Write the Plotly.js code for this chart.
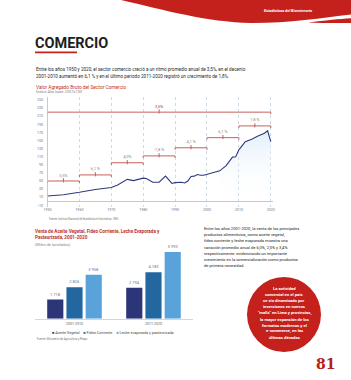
<!DOCTYPE html>
<html><head><meta charset="utf-8">
<script src="https://cdn.plot.ly/plotly-3.0.1.min.js"></script>
<style>html,body{margin:0;padding:0;background:#fff}#chart{width:351px;height:380px}</style>
</head><body><div id="chart"></div>
<script>
// ---- Line chart data: Valor Agregado Bruto del Sector Comercio (Índice 2007=100)
const vabYears = [1950,1955,1960,1965,1970,1972,1975,1977,1980,1981,1983,1985,1987,1989,1990,1992,1993,1994,1995,1996,1997,1998,1999,2000,2002,2004,2006,2007,2008,2009,2010,2012,2014,2016,2018,2019,2020];
const vabIndex = [13,16,22,29,34,40,54,51,57,56,47,47,62,44,46,47,45,50,61,62,66,64,64,66,70,75,88,98,109,110,127,147,153,161,168,174,147];
// Growth-rate brackets
const brStart = [1950,1950,1960,1970,1980,1990,2000,2010];
const brEnd   = [2020,1960,1970,1980,1990,2000,2010,2020];
const brLevel = [220,50,65,95,112,132,157,186];
const brLabel = ['3,5%','5,5%','6,1 %','4,0%','-1,8 %','4,1 %','6,1 %','1,8 %'];
const yTicks = [-10,10,30,50,70,90,110,130,150,170,190,210,230,250];
const xTicks = [1950,1960,1970,1980,1990,2000,2010,2020];

// ---- Bar chart data: Venta (Miles de toneladas)
const periods = ['2001-2010','2011-2020'];
const seriesNames = ['Aceite Vegetal','Fideo Corriente','Leche evaporada y pasteurizada'];
const aceite = [1718,2794];
const fideo  = [2826,4183];
const leche  = [3958,5993];
const barColors = ['#2c3577','#22679f','#5aa3da'];

const W = 351, H = 380;
const X = px => px / W;
const Y = py => 1 - py / H;
const P = (x, y) => X(x).toFixed(5) + ',' + Y(y).toFixed(5);
const fmt = v => Math.floor(v / 1000) + ' ' + String(v % 1000).padStart(3, '0');

const RED = '#c0302b';
const BR = '#c4605b';
const FONT = 'Roboto, "Open Sans", sans-serif';

const traces = [];
// light gradient fill under recent part
const fillYears = vabYears.filter(y => y >= 2004);
const fillVals = vabIndex.slice(vabYears.indexOf(2004));
traces.push({x: fillYears, y: fillVals, xaxis: 'x', yaxis: 'y', mode: 'lines', line: {width: 0},
  fill: 'tozeroy', fillgradient: {type: 'vertical', colorscale: [[0, 'rgba(255,255,255,0)'], [1, 'rgba(214,232,248,0.7)']]},
  hoverinfo: 'skip', showlegend: false});
traces.push({x: vabYears, y: vabIndex, xaxis: 'x', yaxis: 'y', mode: 'lines',
  line: {color: '#2f3a7e', width: 1.1}, showlegend: false});
// brackets
for (let i = 0; i < brStart.length; i++) {
  const a = brStart[i], b = brEnd[i], v = brLevel[i];
  traces.push({x: [a, a, b, b], y: [v - 5, v, v, v - 5], xaxis: 'x', yaxis: 'y', mode: 'lines',
    line: {color: BR, width: 1}, showlegend: false, hoverinfo: 'skip'});
  traces.push({x: [(a + b) / 2], y: [v + 1.5], xaxis: 'x', yaxis: 'y', mode: 'markers+text',
    marker: {symbol: 'line-ns-open', size: 3, color: BR, line: {width: 1, color: BR}},
    text: [brLabel[i]], textposition: 'top center',
    textfont: {size: 4, color: i === 0 ? RED : '#888', family: FONT},
    showlegend: false, hoverinfo: 'skip', cliponaxis: false});
}
// bars
[aceite, fideo, leche].forEach((vals, i) => {
  traces.push({type: 'bar', x: periods, y: vals, name: seriesNames[i], xaxis: 'x2', yaxis: 'y2',
    marker: {color: barColors[i]}, text: vals.map(fmt), textposition: 'outside',
    textfont: {size: 4, color: '#55779c', family: FONT}, cliponaxis: false, showlegend: false});
});

const ann = [];
function txt(x, y, text, size, color, opts) {
  ann.push(Object.assign({xref: 'paper', yref: 'paper', x: X(x), y: Y(y), text: text, showarrow: false,
    xanchor: 'left', yanchor: 'middle', font: {size: size, color: color, family: FONT}}, opts || {}));
}
txt(262, 11, '<i><b>Estadísticas del Bicentenario</b></i>', 3.8, '#ffffff');
txt(33, 43.5, '<b>COMERCIO</b>', 14.5, '#1e1e1e');
txt(34, 69, 'Entre los años 1950 y 2020, el sector comercio creció a un ritmo promedio anual de 3,5%, en el decenio', 4.6, '#2a2a2a');
txt(34, 76.5, '2001-2010 aumentó en 6,1 % y en el último periodo 2011-2020 registró un crecimiento de 1,8%.', 4.6, '#2a2a2a');
txt(34, 87.3, 'Valor Agregado Bruto del Sector Comercio', 4.8, RED);
txt(34, 91.8, 'Índice Año base 2007=100', 3.9, '#888');
txt(47, 219.3, 'Fuente: Instituto Nacional de Estadística e Informática - INEI.', 2.6, '#777');
txt(33, 231, '<b>Venta de Aceite Vegetal, Fideo Corriente, Leche Evaporada y</b>', 4.6, RED);
txt(33, 238, '<b>Pasteurizada, 2001-2020</b>', 4.6, RED);
txt(33, 244, '(Miles de toneladas)', 3.9, '#888');
const legendText = seriesNames.map((n, i) => '<span style="color:' + barColors[i] + '">■</span> ' + n).join('    ');
txt(113, 332.7, legendText, 3.8, '#444', {xanchor: 'center'});
txt(35, 339, 'Fuente: Ministerio de Agricultura y Riego.', 2.8, '#777');
const para = ['Entre los años 2001-2020, la venta de los principales',
  'productos alimenticios, como aceite vegetal,',
  'fideo corriente y leche evaporada muestra una',
  'variación promedio anual de 6,0%, 2,0% y 3,4%',
  'respectivamente; evidenciando un importante',
  'crecimiento en la comercialización como productos',
  'de primera necesidad.'];
const paraY = [228.3, 234.6, 240.8, 247, 253.5, 259.8, 265.8];
para.forEach((t, i) => txt(201.5, paraY[i], t, 4.1, '#222'));
const circ = ['La actividad', 'comercial en el país', 'se vio dinamizado por', 'inversiones en nuevos',
  '"malls" en Lima y provincias,', 'la mayor expansión de los', 'formatos modernos y el', 'e-commerce, en las', 'últimas décadas'];
circ.forEach((t, i) => txt(284, 288.5 + i * 6.1, '<b>' + t + '</b>', 4.2, '#ffffff', {xanchor: 'center'}));
ann.push({xref: 'paper', yref: 'paper', x: X(325), y: Y(363.5), text: '<b>81</b>', showarrow: false,
  xanchor: 'center', yanchor: 'middle', font: {size: 14, color: '#b3201c', family: '"DejaVu Serif", serif'}});

const shapes = [
  {type: 'path', xref: 'paper', yref: 'paper', line: {width: 0}, fillcolor: '#c4211c',
    path: 'M' + P(121, 0) + ' C' + P(165, 10) + ' ' + P(205, 22) + ' ' + P(252, 23) +
      ' C' + P(290, 23) + ' ' + P(322, 18) + ' ' + P(351, 14.5) + ' L' + P(351, 0) + ' Z'},
  {type: 'path', xref: 'paper', yref: 'paper', line: {width: 0}, fillcolor: '#c4211c',
    path: 'M' + P(308, 22.6) + ' C' + P(325, 20.5) + ' ' + P(340, 19) + ' ' + P(351, 18.3) +
      ' L' + P(351, 23) + ' C' + P(338, 23.2) + ' ' + P(322, 23.2) + ' ' + P(308, 22.6) + ' Z'},
  {type: 'rect', xref: 'paper', yref: 'paper', x0: X(35), x1: X(77), y0: Y(53.3), y1: Y(51.6),
    line: {width: 0}, fillcolor: '#c4211c'},
  {type: 'circle', xref: 'paper', yref: 'paper', x0: X(247), x1: X(321), y0: Y(352), y1: Y(277),
    line: {width: 0}, fillcolor: '#c4211c'}
];

const layout = {
  width: W, height: H, margin: {l: 0, r: 0, t: 0, b: 0}, paper_bgcolor: '#fff', plot_bgcolor: 'rgba(0,0,0,0)',
  showlegend: false, font: {family: FONT},
  xaxis: {domain: [X(47.5), X(272.7)], range: [1950, 2020.6], tickvals: xTicks, showgrid: true,
    gridcolor: '#bcd3ea', griddash: 'dot', gridwidth: 0.8, zeroline: false, showline: false,
    ticks: '', tickfont: {size: 3.6, color: '#777'}, fixedrange: true},
  yaxis: {domain: [Y(206.5), Y(97)], range: [-13, 257.4], tickvals: yTicks, showgrid: false,
    zeroline: true, zerolinecolor: '#bbb', zerolinewidth: 0.8, showline: true, linecolor: '#bbb', linewidth: 0.8,
    ticks: '', tickfont: {size: 3.6, color: '#777'}, ticklabelstandoff: 3},
  xaxis2: {domain: [X(35), X(193)], anchor: 'y2', showline: true, linecolor: '#ccc', linewidth: 0.8,
    ticks: '', tickfont: {size: 3.6, color: '#666'}, ticklabelstandoff: 1},
  yaxis2: {domain: [Y(318.7), Y(248.7)], anchor: 'x2', range: [0, 6300], visible: false},
  barmode: 'group', bargap: 0.27, bargroupgap: 0.16,
  annotations: ann, shapes: shapes
};
Plotly.newPlot('chart', traces, layout, {staticPlot: true});
</script></body></html>
